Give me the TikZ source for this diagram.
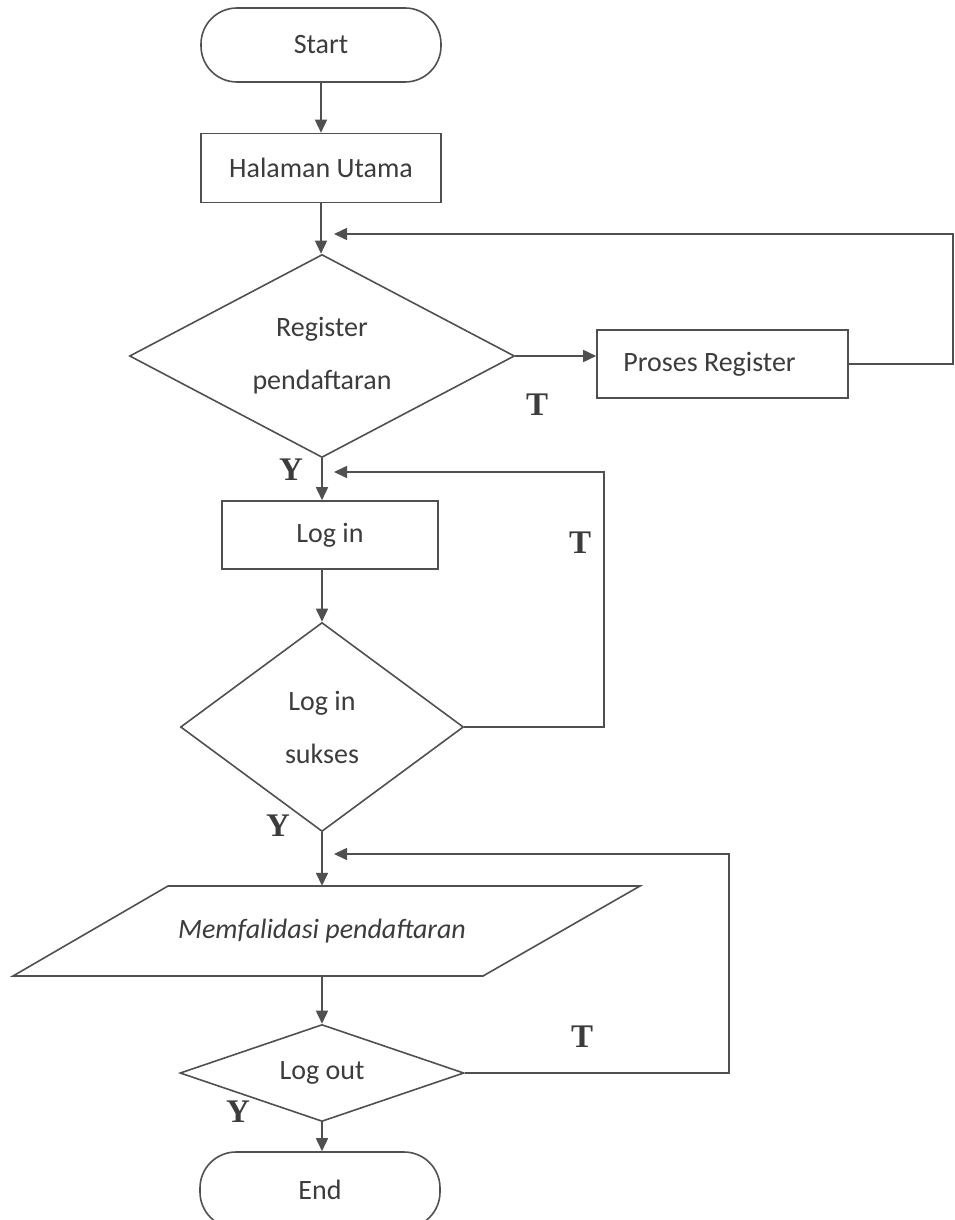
\documentclass[tikz,border=0pt]{standalone}
\usepackage{fontspec}
\setmainfont{Carlito}
\newfontfamily\lblfont{Liberation Serif}
\usetikzlibrary{shapes.geometric,arrows.meta}
\definecolor{ln}{HTML}{505050}
\definecolor{tx}{HTML}{3C3C3C}
\begin{document}
\begin{tikzpicture}[x=1pt,y=-1pt,
  every node/.style={text=tx,font=\fontsize{28}{53}\selectfont},
  shp/.style={draw=ln,line width=1.6pt,inner sep=0pt},
  terminal/.style={shp,rounded corners=36pt,minimum width=240pt,minimum height=74pt},
  procbox/.style={shp,rectangle,minimum height=68pt},
  decision/.style={shp,diamond,align=center},
  conn/.style={draw=ln,line width=1.6pt},
  arr/.style={conn,-{Triangle[length=13pt,width=12pt]}},
  lbl/.style={text=tx,font=\lblfont\bfseries\fontsize{33}{33}\selectfont,inner sep=0pt}]
\useasboundingbox (0,0) rectangle (955,1220);
\clip (0,0) rectangle (955,1220);

% nodes
\node[terminal] (start) at (321,45) {Start};
\node[procbox,minimum width=240pt,minimum height=69pt] (hal) at (321,168) {Halaman Utama};
\node[decision,minimum width=385pt,minimum height=203pt,aspect=1.9] (reg) at (322,356) {Register\\pendaftaran};
\node[procbox,minimum width=251pt] (proses) at (722.5,364) {\hspace*{-26pt}Proses Register};
\node[procbox,minimum width=216pt] (login) at (330,535) {Log in};
\node[decision,minimum width=283pt,minimum height=209pt,aspect=1.35] (sukses) at (322,727) {Log in\\sukses};
\node[minimum width=470pt,minimum height=90pt,inner sep=0pt] (valid) at (322,931) {\itshape Memfalidasi pendaftaran};
\draw[conn] (168,886) -- (640,886) -- (483,976) -- (13,976) -- cycle;
\node[decision,minimum width=284pt,minimum height=97pt,aspect=2.9] (logout) at (322,1073) {Log out};
\node[terminal,minimum width=240pt,minimum height=76pt] (end) at (320,1190) {End};

% coordinates for loops
\coordinate (r1) at (953,364);
\coordinate (r2) at (953,234);
\coordinate (m1) at (334,234);
\coordinate (s1) at (604,727);
\coordinate (s2) at (604,472);
\coordinate (m2) at (334,472);
\coordinate (o1) at (729,1073);
\coordinate (o2) at (729,854);
\coordinate (m3) at (334,854);

% main flow
\draw[arr] (start.south) -- (start.south |- hal.north);
\draw[arr] (hal.south) -- (hal.south |- reg.north);
\draw[arr] (reg.east) -- (reg.east -| proses.west);
\draw[arr] (reg.south) -- (reg.south |- login.north);
\draw[arr] (reg.south |- login.south) -- (sukses.north);
\draw[arr] (sukses.south) -- (valid.north);
\draw[arr] (valid.south) -- (logout.north);
\draw[arr] (logout.south) -- (logout.south |- end.north);

% loops
\draw[arr] (proses.east) -- (r1) -- (r2) -- (m1);
\draw[arr] (sukses.east) -- (s1) -- (s2) -- (m2);
\draw[arr] (logout.east) -- (o1) -- (o2) -- (m3);

% labels
\node[lbl] (t1) at (537,405) {T};
\node[lbl] (y1) at (291,470) {Y};
\node[lbl] (t2) at (580,543) {T};
\node[lbl] (y2) at (278,826) {Y};
\node[lbl] (t3) at (582,1037) {T};
\node[lbl] (y3) at (238,1112) {Y};
\end{tikzpicture}
\end{document}
